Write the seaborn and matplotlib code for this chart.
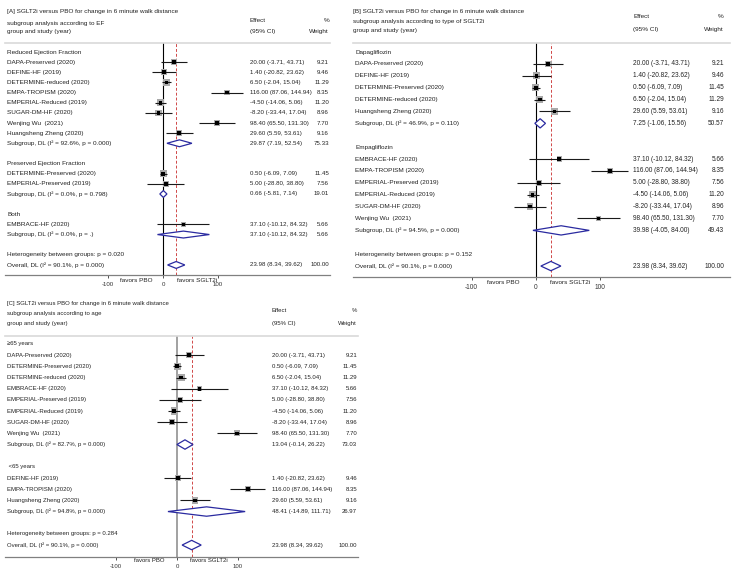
import numpy as np
import pandas as pd
import matplotlib
matplotlib.use("Agg")
import matplotlib.pyplot as plt
import seaborn as sns
from matplotlib.transforms import blended_transform_factory

sns.set_theme(style="white")
plt.rcParams["font.family"] = ["Liberation Sans", "DejaVu Sans"]

# ---------------- data ----------------
study_names = ["DAPA-Preserved (2020)", "DEFINE-HF (2019)", "DETERMINE-reduced (2020)",
               "DETERMINE-Preserved (2020)", "EMPA-TROPISM (2020)", "EMPERIAL-Reduced (2019)",
               "EMPERIAL-Preserved (2019)", "SUGAR-DM-HF (2020)", "Wenjing Wu  (2021)",
               "Huangsheng Zheng (2020)", "EMBRACE-HF (2020)"]
study_eff = [20.00, 1.40, 6.50, 0.50, 116.00, -4.50, 5.00, -8.20, 98.40, 29.60, 37.10]
study_lo = [-3.71, -20.82, -2.04, -6.09, 87.06, -14.06, -28.80, -33.44, 65.50, 5.59, -10.12]
study_hi = [43.71, 23.62, 15.04, 7.09, 144.94, 5.06, 38.80, 17.04, 131.30, 53.61, 84.32]
study_wt = [9.21, 9.46, 11.29, 11.45, 8.35, 11.20, 7.56, 8.96, 7.70, 9.16, 5.66]

overall_eff, overall_lo, overall_hi = 23.98, 8.34, 39.62
overall_i2 = 90.1
overall_p = "0.000"

# Panel A: by EF
a_title = "[A] SGLT2i versus PBO for change in 6 minute walk distance"
a_subtitle = "subgroup analysis according to EF"
a_groups = ["Reduced Ejection Fraction", "Preserved Ejection Fraction", "Both"]
a_members = [["DAPA-Preserved (2020)", "DEFINE-HF (2019)", "DETERMINE-reduced (2020)",
              "EMPA-TROPISM (2020)", "EMPERIAL-Reduced (2019)", "SUGAR-DM-HF (2020)",
              "Wenjing Wu  (2021)", "Huangsheng Zheng (2020)"],
             ["DETERMINE-Preserved (2020)", "EMPERIAL-Preserved (2019)"],
             ["EMBRACE-HF (2020)"]]
a_sub_eff = [29.87, 0.66, 37.10]
a_sub_lo = [7.19, -5.81, -10.12]
a_sub_hi = [52.54, 7.14, 84.32]
a_sub_wt = [75.33, 19.01, 5.66]
a_sub_i2 = [92.6, 0.0, 0.0]
a_sub_p = ["0.000", "0.798", "."]
a_het_p = "0.020"

# Panel B: by type of SGLT2i
b_title = "[B] SGLT2i versus PBO for change in 6 minute walk distance"
b_subtitle = "subgroup analysis according to type of SGLT2i"
b_groups = ["Dapagliflozin", "Empagliflozin"]
b_members = [["DAPA-Preserved (2020)", "DEFINE-HF (2019)", "DETERMINE-Preserved (2020)",
              "DETERMINE-reduced (2020)", "Huangsheng Zheng (2020)"],
             ["EMBRACE-HF (2020)", "EMPA-TROPISM (2020)", "EMPERIAL-Preserved (2019)",
              "EMPERIAL-Reduced (2019)", "SUGAR-DM-HF (2020)", "Wenjing Wu  (2021)"]]
b_sub_eff = [7.25, 39.98]
b_sub_lo = [-1.06, -4.05]
b_sub_hi = [15.56, 84.00]
b_sub_wt = [50.57, 49.43]
b_sub_i2 = [46.9, 94.5]
b_sub_p = ["0.110", "0.000"]
b_het_p = "0.152"

# Panel C: by age
c_title = "[C] SGLT2i versus PBO for change in 6 minute walk distance"
c_subtitle = "subgroup analysis according to age"
c_groups = ["\u226565 years", " <65 years"]
c_members = [["DAPA-Preserved (2020)", "DETERMINE-Preserved (2020)", "DETERMINE-reduced (2020)",
              "EMBRACE-HF (2020)", "EMPERIAL-Preserved (2019)", "EMPERIAL-Reduced (2019)",
              "SUGAR-DM-HF (2020)", "Wenjing Wu  (2021)"],
             ["DEFINE-HF (2019)", "EMPA-TROPISM (2020)", "Huangsheng Zheng (2020)"]]
c_sub_eff = [13.04, 48.41]
c_sub_lo = [-0.14, -14.89]
c_sub_hi = [26.22, 111.71]
c_sub_wt = [73.03, 26.97]
c_sub_i2 = [82.7, 94.8]
c_sub_p = ["0.000", "0.000"]
c_het_p = "0.284"

x_ticks = [-100, 0, 100]
x_ticklabels = ["-100", "0", "100"]
favor_left = "favors PBO"
favor_right = "favors SGLT2i"

# ---------------- styling / layout ----------------
W, H = 735, 576
TXT = "#222222"
BOX = "#a9a9a9"
NAVY = "#2a2aa0"
RED = "#d04848"

fig = plt.figure(figsize=(W / 100, H / 100), dpi=100)
fig.patch.set_facecolor("white")


def rect(l, r, t, b):
    return [l / W, 1 - b / H, (r - l) / W, (b - t) / H]


def fmt_ci(e, lo, hi):
    return f"{e:.2f} ({lo:.2f}, {hi:.2f})"


def draw_panel(lay, title, subtitle, groups, members, s_eff, s_lo, s_hi, s_wt, s_i2, s_p, het_p):
    l, r, t, b = lay["box"]
    ax = fig.add_axes(rect(l, r, t, b))
    fs, nfs = lay["fs"], lay["nfs"]

    # build rows
    rows = []
    ri = 0
    for g, (gname, mem) in enumerate(zip(groups, members)):
        rows.append(("header", ri, gname))
        ri += 1
        for m in mem:
            rows.append(("study", ri, m))
            ri += 1
        rows.append(("sub", ri, g))
        ri += 2
    rows.append(("het", ri, None))
    ri += 1
    rows.append(("overall", ri, None))

    recs = []
    for kind, rr, key in rows:
        if kind == "study":
            i = study_names.index(key)
            recs.append(dict(row=rr, eff=study_eff[i], lo=study_lo[i], hi=study_hi[i], wt=study_wt[i], name=key))
    df = pd.DataFrame(recs)

    # null and overall lines
    ax.axvline(0, color=lay["null_col"], lw=lay["null_lw"], zorder=1)
    ax.axvline(overall_eff, color=RED, lw=0.7, ls=(0, (3, 2)), zorder=1)

    # boxes, CI lines, point markers
    k = lay["boxk"]
    wmin, wmax = min(study_wt), max(study_wt)
    sns.scatterplot(data=df, x="eff", y="row", size="wt", sizes=(k * wmin, k * wmax),
                    size_norm=(wmin, wmax), marker="s", color=BOX, edgecolor="none",
                    linewidth=0, legend=False, ax=ax, zorder=2)
    ax.hlines(df["row"], df["lo"], df["hi"], color="#1a1a1a", lw=0.8, zorder=3)
    sns.scatterplot(data=df, x="eff", y="row", marker="s", s=7, color="black",
                    edgecolor="none", linewidth=0, legend=False, ax=ax, zorder=4)

    h = lay["dh"]
    tr = blended_transform_factory(ax.transAxes, ax.transData)
    lx, ex, wx = lay["cols"]

    for kind, rr, key in rows:
        if kind == "header":
            ax.text(lx, rr, key, transform=tr, fontsize=fs, color=TXT, ha="left", va="center")
        elif kind == "study":
            i = study_names.index(key)
            ax.text(lx, rr, key, transform=tr, fontsize=fs, color=TXT, ha="left", va="center")
            ax.text(ex, rr, fmt_ci(study_eff[i], study_lo[i], study_hi[i]), transform=tr,
                    fontsize=nfs, color=TXT, ha="left", va="center")
            ax.text(wx, rr, f"{study_wt[i]:.2f}", transform=tr, fontsize=nfs, color=TXT,
                    ha="right", va="center")
        elif kind == "sub":
            g = key
            e, lo, hi = s_eff[g], s_lo[g], s_hi[g]
            ax.fill([lo, e, hi, e], [rr, rr - h, rr, rr + h], facecolor="white",
                    edgecolor=NAVY, lw=0.9, zorder=5)
            ax.text(lx, rr, f"Subgroup, DL (I\u00b2 = {s_i2[g]:.1f}%, p = {s_p[g]})", transform=tr,
                    fontsize=fs, color=TXT, ha="left", va="center")
            ax.text(ex, rr, fmt_ci(e, lo, hi), transform=tr, fontsize=nfs, color=TXT,
                    ha="left", va="center")
            ax.text(wx, rr, f"{s_wt[g]:.2f}", transform=tr, fontsize=nfs, color=TXT,
                    ha="right", va="center")
        elif kind == "het":
            ax.text(lx, rr, f"Heterogeneity between groups: p = {het_p}", transform=tr,
                    fontsize=fs, color=TXT, ha="left", va="center")
        elif kind == "overall":
            ax.fill([overall_lo, overall_eff, overall_hi, overall_eff], [rr, rr - h, rr, rr + h],
                    facecolor="white", edgecolor=NAVY, lw=0.9, zorder=5)
            ax.text(lx, rr, f"Overall, DL (I\u00b2 = {overall_i2:.1f}%, p = {overall_p})", transform=tr,
                    fontsize=fs, color=TXT, ha="left", va="center")
            ax.text(ex, rr, fmt_ci(overall_eff, overall_lo, overall_hi), transform=tr,
                    fontsize=nfs, color=TXT, ha="left", va="center")
            ax.text(wx, rr, f"{sum(s_wt):.2f}", transform=tr, fontsize=nfs, color=TXT,
                    ha="right", va="center")

    # axes geometry
    ax.set_xlim(*lay["xlim"])
    ax.set_ylim(*lay["ylim"])
    ax.set_xlabel("")
    ax.set_ylabel("")
    ax.set_yticks([])
    ax.set_xticks(x_ticks)
    ax.set_xticklabels(x_ticklabels)
    ax.tick_params(axis="x", bottom=True, length=2.5, width=0.6, pad=2.5,
                   labelsize=nfs, colors="#333333")
    for side in ["left", "right"]:
        ax.spines[side].set_visible(False)
    ax.spines["top"].set_color("#d9d9d9")
    ax.spines["top"].set_linewidth(1.2)
    ax.spines["bottom"].set_color("#808080")
    ax.spines["bottom"].set_linewidth(0.9)
    ax.set_facecolor("none")

    for xv, txt in [(lay["fav"][0], favor_left), (lay["fav"][1], favor_right)]:
        ax.annotate(txt, xy=(xv, 0), xycoords=("data", "axes fraction"),
                    xytext=(0, -lay["favdy"]), textcoords="offset points",
                    ha="center", va="center", fontsize=fs, color=TXT)

    # header texts
    hx = lay["hx"]
    ty = lay["ty"]
    fig.text(hx / W, 1 - ty[0] / H, title, fontsize=fs, color=TXT, ha="left", va="center")
    fig.text(hx / W, 1 - ty[1] / H, subtitle, fontsize=fs, color=TXT, ha="left", va="center")
    fig.text(hx / W, 1 - ty[2] / H, "group and study (year)", fontsize=fs, color=TXT,
             ha="left", va="center")
    epx, wpx = lay["hcols"]
    fig.text(epx / W, 1 - ty[3] / H, "Effect", fontsize=fs, color=TXT, ha="left", va="center")
    fig.text(epx / W, 1 - ty[4] / H, "(95% CI)", fontsize=fs, color=TXT, ha="left", va="center")
    fig.text(wpx / W, 1 - ty[3] / H, "%", fontsize=fs, color=TXT, ha="right", va="center")
    fig.text(wpx / W, 1 - ty[4] / H, "Weight", fontsize=fs, color=TXT, ha="right", va="center")
    return ax


lay_a = dict(box=(5, 330, 43, 275), xlim=(-287.3, 303.6), ylim=(21.99, -0.89),
             fs=4.6, nfs=4.4, cols=((7 - 5) / 325, (250 - 5) / 325, (329 - 5) / 325),
             boxk=2.1, dh=0.34, null_col="black", null_lw=0.8, fav=(-49, 61), favdy=3.6,
             hx=7, ty=(12, 23, 32, 21, 32), hcols=(250, 329))

lay_b = dict(box=(353, 730, 43, 277), xlim=(-285.2, 303.9), ylim=(18.92, -0.757),
             fs=4.6, nfs=4.7, cols=((355 - 353) / 377, (633 - 353) / 377, (724 - 353) / 377),
             boxk=2.4, dh=0.39, null_col="black", null_lw=0.8, fav=(-51, 54), favdy=3.6,
             hx=353, ty=(11, 21.5, 30.7, 17, 29.3), hcols=(633, 724))

lay_c = dict(box=(5, 358, 336, 557), xlim=(-282, 296.7), ylim=(19.07, -0.716),
             fs=4.3, nfs=4.3, cols=((7 - 5) / 353, (272 - 5) / 353, (357 - 5) / 353),
             boxk=2.3, dh=0.42, null_col="#9a9a9a", null_lw=1.3, fav=(-46, 52), favdy=2.7,
             hx=7, ty=(303, 313, 323, 311, 323), hcols=(272, 357))

draw_panel(lay_a, a_title, a_subtitle, a_groups, a_members, a_sub_eff, a_sub_lo, a_sub_hi,
           a_sub_wt, a_sub_i2, a_sub_p, a_het_p)
draw_panel(lay_b, b_title, b_subtitle, b_groups, b_members, b_sub_eff, b_sub_lo, b_sub_hi,
           b_sub_wt, b_sub_i2, b_sub_p, b_het_p)
draw_panel(lay_c, c_title, c_subtitle, c_groups, c_members, c_sub_eff, c_sub_lo, c_sub_hi,
           c_sub_wt, c_sub_i2, c_sub_p, c_het_p)

fig.savefig("out.png", dpi=100, facecolor="white")
